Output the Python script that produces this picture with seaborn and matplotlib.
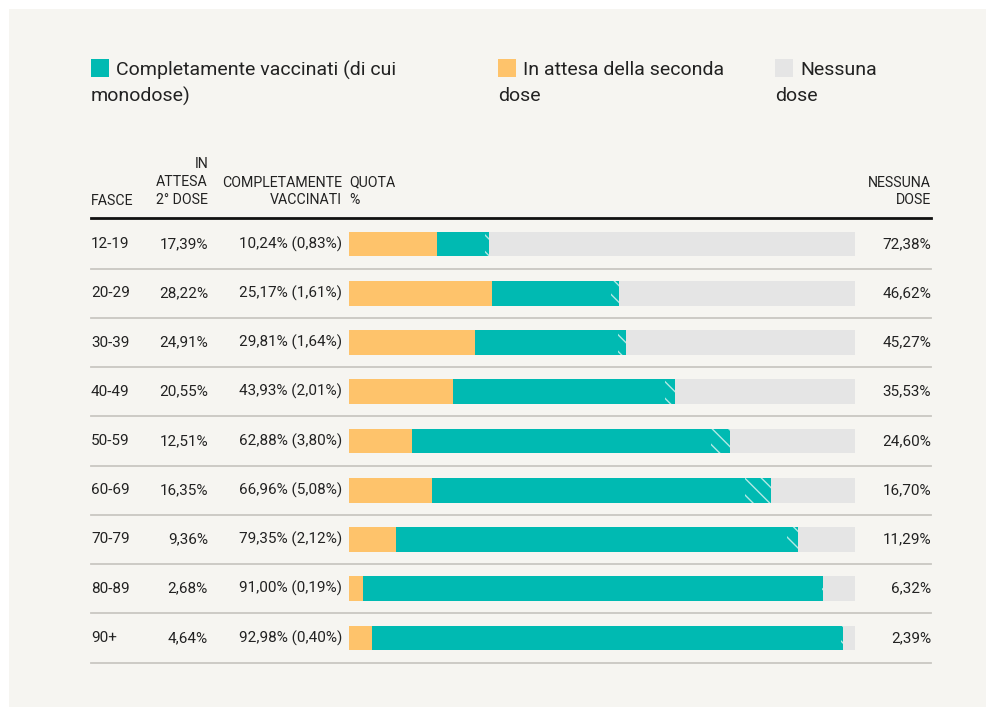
import matplotlib
matplotlib.use("Agg")
import matplotlib.pyplot as plt
import matplotlib.transforms as mtransforms
from matplotlib.patches import Rectangle
from matplotlib.lines import Line2D
import numpy as np
import pandas as pd
import seaborn as sns

# ── Data ──────────────────────────────────────────────────────────────────────
fasce = ["12-19", "20-29", "30-39", "40-49", "50-59", "60-69", "70-79", "80-89", "90+"]
in_attesa = [17.39, 28.22, 24.91, 20.55, 12.51, 16.35, 9.36, 2.68, 4.64]
completi = [10.24, 25.17, 29.81, 43.93, 62.88, 66.96, 79.35, 91.00, 92.98]
monodose = [0.83, 1.61, 1.64, 2.01, 3.80, 5.08, 2.12, 0.19, 0.40]
nessuna = [72.38, 46.62, 45.27, 35.53, 24.60, 16.70, 11.29, 6.32, 2.39]

TEAL = "#00bab2"
ORANGE = "#fec36b"
GREY = "#e5e5e5"
BG = "#f6f5f1"
INK = "#222222"
HATCH = "#b3e9e5"


def pct(v):
    return f"{v:.2f}%".replace(".", ",")


df = pd.DataFrame({"fascia": fasce, "attesa": in_attesa, "completi": completi,
                   "mono": monodose, "nessuna": nessuna})
df["fine_completi"] = df["attesa"] + df["completi"]
df["inizio_mono"] = df["fine_completi"] - df["mono"]
df["totale"] = df["fine_completi"] + df["nessuna"]

# ── Figure ────────────────────────────────────────────────────────────────────
W, H = 987, 707
plt.rcParams["font.family"] = ["Roboto", "DejaVu Sans"]
plt.rcParams["hatch.linewidth"] = 1.0
fig = plt.figure(figsize=(W / 100, H / 100), dpi=100, facecolor="white")
fig.patches.append(Rectangle((9 / W, 0), 1 - 9 / W, 1 - 9 / H,
                             transform=fig.transFigure, facecolor=BG,
                             edgecolor="none", zorder=-5))


def fx(px):
    return px / W


def fy(py):
    return 1 - py / H


ax_top, ax_bot = 219.4, 662.6
ax = fig.add_axes([fx(349), fy(ax_bot), fx(855) - fx(349), (ax_bot - ax_top) / H])
ax.set_facecolor("none")

# stacked bars drawn as overlapping layers
common = dict(y="fascia", orient="h", width=0.5, saturation=1, linewidth=0, ax=ax)
sns.barplot(data=df, x="totale", color=GREY, **common)
sns.barplot(data=df, x="fine_completi", color=TEAL, hatch="\\\\",
            edgecolor=HATCH, **common)
sns.barplot(data=df, x="inizio_mono", color=TEAL, **common)
sns.barplot(data=df, x="attesa", color=ORANGE, **common)

ax.set_xlim(0, 100)
ax.set_ylim(len(fasce) - 0.5, -0.5)
ax.axis("off")

# ── Table text and rules ──────────────────────────────────────────────────────
tr = mtransforms.blended_transform_factory(fig.transFigure, ax.transData)
row_fs = 11
for i, row in df.iterrows():
    ax.text(fx(91), i, row["fascia"], transform=tr, ha="left", va="center",
            fontsize=row_fs, color=INK)
    ax.text(fx(208), i, pct(row["attesa"]), transform=tr, ha="right",
            va="center", fontsize=row_fs, color=INK)
    ax.text(fx(342), i, f"{pct(row['completi'])} ({pct(row['mono'])})",
            transform=tr, ha="right", va="center", fontsize=row_fs, color=INK)
    ax.text(fx(931), i, pct(row["nessuna"]), transform=tr, ha="right",
            va="center", fontsize=row_fs, color=INK)
    ax.add_line(Line2D([fx(91), fx(931)], [i + 0.5, i + 0.5], transform=tr,
                       color="#c9c7c2", linewidth=1.3, clip_on=False))

fig.add_artist(Line2D([fx(91), fx(931)], [fy(218), fy(218)], color="#111111",
                      linewidth=2.0))

hdr_fs = 10.2
hdr = dict(fontsize=hdr_fs, color=INK, va="center", linespacing=1.35)
fig.text(fx(91), fy(201), "FASCE", ha="left", **hdr)
fig.text(fx(208), fy(182), "IN\nATTESA\n2° DOSE", ha="right", multialignment="right", **hdr)
fig.text(fx(342), fy(191.5), "COMPLETAMENTE\nVACCINATI", ha="right", multialignment="right", **hdr)
fig.text(fx(349), fy(191.5), "QUOTA\n%", ha="left", multialignment="left", **hdr)
fig.text(fx(931), fy(191.5), "NESSUNA\nDOSE", ha="right", multialignment="right", **hdr)

# ── Legend ────────────────────────────────────────────────────────────────────
leg_fs = 14
legend_items = [
    (91, TEAL, "Completamente vaccinati (di cui", "monodose)"),
    (498, ORANGE, "In attesa della seconda", "dose"),
    (775, GREY, "Nessuna", "dose"),
]
for x0, col, line1, line2 in legend_items:
    fig.patches.append(Rectangle((fx(x0), fy(77)), 18 / W, 18 / H,
                                 transform=fig.transFigure, facecolor=col,
                                 edgecolor="none"))
    fig.text(fx(x0 + 25), fy(70), line1, ha="left", va="center",
             fontsize=leg_fs, color=INK)
    fig.text(fx(x0), fy(96), line2, ha="left", va="center",
             fontsize=leg_fs, color=INK)

fig.savefig("out.png", dpi=100, facecolor=fig.get_facecolor())
